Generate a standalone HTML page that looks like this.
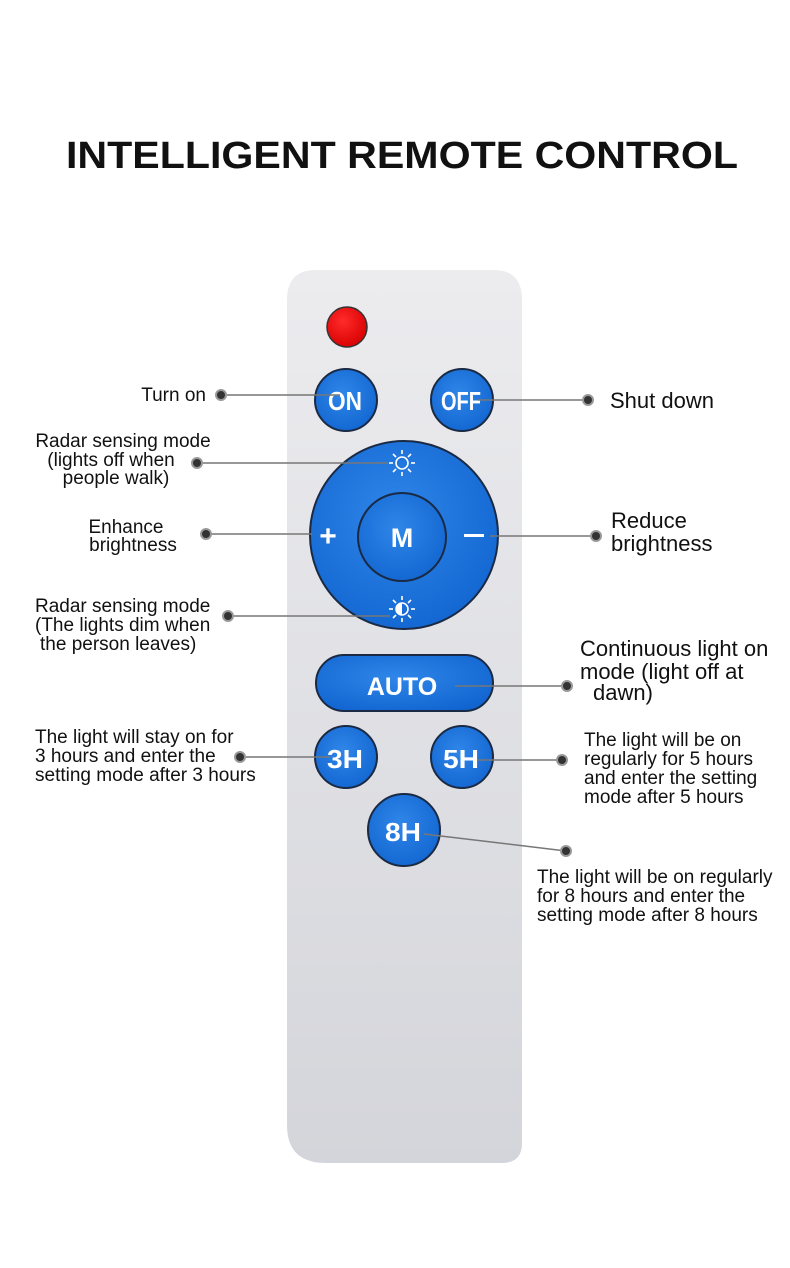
<!DOCTYPE html>
<html><head><meta charset="utf-8"><style>
html,body{margin:0;padding:0;background:#fff}
svg{display:block}
text{font-family:"Liberation Sans",Arial,sans-serif;fill:#111}
</style></head><body>
<svg width="790" height="1268" viewBox="0 0 790 1268" xmlns="http://www.w3.org/2000/svg">
<defs>
<linearGradient id="body" x1="0" y1="0" x2="0" y2="1">
<stop offset="0" stop-color="#ececef"/><stop offset="1" stop-color="#d4d5da"/></linearGradient>
<radialGradient id="blue" cx="0.45" cy="0.4" r="0.7">
<stop offset="0" stop-color="#2f86e8"/><stop offset="1" stop-color="#1063cf"/></radialGradient>
<radialGradient id="red" cx="0.4" cy="0.35" r="0.7">
<stop offset="0" stop-color="#ff2a2a"/><stop offset="1" stop-color="#d80000"/></radialGradient>
</defs>
<text x="402" y="168" font-size="38" font-weight="bold" text-anchor="middle" textLength="672" lengthAdjust="spacingAndGlyphs">INTELLIGENT REMOTE CONTROL</text>

<path d="M316 270 H494 Q522 270 522 300 V1143 Q522 1163 502 1163 H326 Q287 1163 287 1125 V300 Q287 270 316 270 Z" fill="url(#body)"/>

<circle cx="347" cy="327" r="20" fill="url(#red)" stroke="#333" stroke-width="1.5"/>
<g stroke="#1a2a44" stroke-width="2">
<circle cx="346" cy="400" r="31" fill="url(#blue)"/>
<circle cx="462" cy="400" r="31" fill="url(#blue)"/>
<circle cx="404" cy="535" r="94" fill="url(#blue)"/>
<circle cx="402" cy="537" r="44" fill="url(#blue)"/>
<rect x="316" y="655" width="177" height="56" rx="28" fill="url(#blue)"/>
<circle cx="346" cy="757" r="31" fill="url(#blue)"/>
<circle cx="462" cy="757" r="31" fill="url(#blue)"/>
<circle cx="404" cy="830" r="36" fill="url(#blue)"/>
</g>
<g font-weight="bold" text-anchor="middle" style="fill:#fff">
<text x="345" y="410" font-size="26" style="fill:#fff" textLength="34" lengthAdjust="spacingAndGlyphs">ON</text>
<text x="461" y="410" font-size="26" style="fill:#fff" textLength="40" lengthAdjust="spacingAndGlyphs">OFF</text>
<text x="402" y="547" font-size="27" style="fill:#fff">M</text>
<text x="328" y="546" font-size="30" style="fill:#fff">+</text>
<text x="402" y="695" font-size="25" style="fill:#fff">AUTO</text>
<text x="345" y="768" font-size="26" style="fill:#fff" textLength="36" lengthAdjust="spacingAndGlyphs">3H</text>
<text x="461" y="768" font-size="26" style="fill:#fff" textLength="36" lengthAdjust="spacingAndGlyphs">5H</text>
<text x="403" y="841" font-size="26" style="fill:#fff" textLength="36" lengthAdjust="spacingAndGlyphs">8H</text>
</g>
<rect x="464" y="534" width="20" height="3" fill="#fff"/>
<g stroke="#fff" stroke-width="1.6" fill="none">
<circle cx="402" cy="463" r="6"/>
<circle cx="402" cy="609" r="6"/>
<g>
<line x1="402" y1="450" x2="402" y2="454"/><line x1="402" y1="472" x2="402" y2="476"/>
<line x1="389" y1="463" x2="393" y2="463"/><line x1="411" y1="463" x2="415" y2="463"/>
<line x1="393" y1="454" x2="396" y2="457"/><line x1="408" y1="469" x2="411" y2="472"/>
<line x1="411" y1="454" x2="408" y2="457"/><line x1="396" y1="469" x2="393" y2="472"/>
</g>
<g transform="translate(0,146)">
<line x1="402" y1="450" x2="402" y2="454"/><line x1="402" y1="472" x2="402" y2="476"/>
<line x1="389" y1="463" x2="393" y2="463"/><line x1="411" y1="463" x2="415" y2="463"/>
<line x1="393" y1="454" x2="396" y2="457"/><line x1="408" y1="469" x2="411" y2="472"/>
<line x1="411" y1="454" x2="408" y2="457"/><line x1="396" y1="469" x2="393" y2="472"/>
</g>
</g>
<path d="M402 603 A6 6 0 0 0 402 615 Z" fill="#fff"/>

<g stroke="#777" stroke-width="1.5">
<line x1="221" y1="395" x2="340" y2="395"/>
<line x1="197" y1="463" x2="388" y2="463"/>
<line x1="206" y1="534" x2="312" y2="534"/>
<line x1="228" y1="616" x2="390" y2="616"/>
<line x1="478" y1="400" x2="588" y2="400"/>
<line x1="490" y1="536" x2="596" y2="536"/>
<line x1="455" y1="686" x2="567" y2="686"/>
<line x1="240" y1="757" x2="330" y2="757"/>
<line x1="478" y1="760" x2="562" y2="760"/>
<line x1="424" y1="834" x2="566" y2="851"/>
</g>
<g fill="#333" stroke="#999" stroke-width="2">
<circle cx="221" cy="395" r="5"/><circle cx="197" cy="463" r="5"/>
<circle cx="206" cy="534" r="5"/><circle cx="228" cy="616" r="5"/>
<circle cx="588" cy="400" r="5"/><circle cx="596" cy="536" r="5"/>
<circle cx="567" cy="686" r="5"/><circle cx="240" cy="757" r="5"/>
<circle cx="562" cy="760" r="5"/><circle cx="566" cy="851" r="5"/>
</g>

<g font-size="19">
<text x="206" y="401" text-anchor="end">Turn on</text>
<text x="123" y="447" text-anchor="middle">Radar sensing mode</text>
<text x="111" y="466" text-anchor="middle">(lights off when</text>
<text x="116" y="484" text-anchor="middle">people walk)</text>
<text x="126" y="533" text-anchor="middle">Enhance</text>
<text x="133" y="551" text-anchor="middle">brightness</text>
<text x="35" y="612">Radar sensing mode</text>
<text x="35" y="631">(The lights dim when</text>
<text x="40" y="650">the person leaves)</text>
<text x="35" y="743">The light will stay on for</text>
<text x="35" y="762">3 hours and enter the</text>
<text x="35" y="781">setting mode after 3 hours</text>
<text x="584" y="746">The light will be on</text>
<text x="584" y="765">regularly for 5 hours</text>
<text x="584" y="784">and enter the setting</text>
<text x="584" y="803">mode after 5 hours</text>
<text x="537" y="883">The light will be on regularly</text>
<text x="537" y="902">for 8 hours and enter the</text>
<text x="537" y="921">setting mode after 8 hours</text>
</g>
<g font-size="22">
<text x="610" y="408">Shut down</text>
<text x="611" y="528">Reduce</text>
<text x="611" y="551">brightness</text>
<text x="580" y="656">Continuous light on</text>
<text x="580" y="679">mode (light off at</text>
<text x="593" y="700">dawn)</text>
</g>
</svg>
</body></html>
